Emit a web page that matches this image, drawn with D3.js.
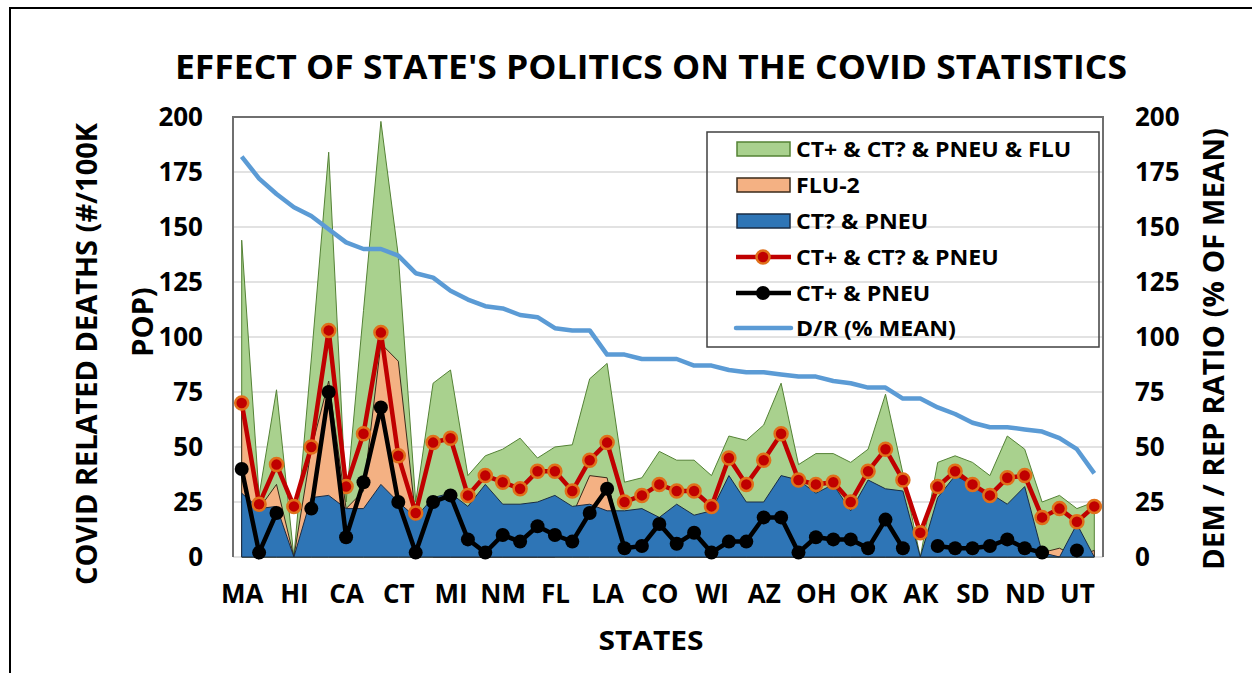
<!DOCTYPE html>
<html><head><meta charset="utf-8">
<script src="https://cdn.jsdelivr.net/npm/d3@7"></script>
<style>body{margin:0;background:#fff;} svg{display:block;} text{font-family:"Open Sans",sans-serif;font-weight:700;fill:#000;}</style>
</head><body>
<svg id="chart" width="1252" height="673"></svg>
<script>
const states = ["MA","VT","RI","HI","MD","NY","CA","IL","NJ","CT","DE","WA","MI","OR","NV","NM","PA","VA","FL","ME",
"MN","LA","NH","NC","CO","GA","IA","WI","KY","MO","AZ","TX","IN","OH","MS","SC","OK","AR","KS","AK",
"TN","MT","SD","NE","WV","ND","AL","ID","UT","WY"];
const shownLabels = ["MA","HI","CA","CT","MI","NM","FL","LA","CO","WI","AZ","OH","OK","AK","SD","ND","UT"];
// CT+ & CT? & PNEU & FLU (total)
const totalFlu = [144,28,76,0,90,184,25,112,198,137,25,79,85,37,46,49,54,45,50,51,
81,88,34,36,48,44,44,37,55,53,60,79,42,47,47,43,49,74,38,0,
43,46,43,37,55,49,25,28,22,25];
// FLU-2
const flu2 = [68,22,33,0,49,80,22,30,97,89,18,0,0,0,0,0,0,0,0,19,
37,36,0,0,0,0,0,0,0,0,0,0,0,0,0,0,0,0,0,0,
0,0,0,0,0,0,2,4,0,3];
// CT? & PNEU
const ctqPneu = [29,22,23,0,27,28,22,22,33,25,18,27,29,23,33,24,24,25,28,23,
24,21,21,22,18,24,19,21,37,25,25,37,35,29,33,21,35,31,30,0,
27,37,33,29,24,32,2,0,15,0];
// CT+ & CT? & PNEU
const ctAllPneu = [70,24,42,23,50,103,32,56,102,46,20,52,54,28,37,34,31,39,39,30,
44,52,25,28,33,30,30,23,45,33,44,56,35,33,34,25,39,49,35,11,
32,39,33,28,36,37,18,22,16,23];
// CT+ & PNEU (null = no value)
const ctPlusPneu = [40,2,20,null,22,75,9,34,68,25,2,25,28,8,2,10,7,14,10,7,
20,31,4,5,15,6,11,2,7,7,18,18,2,9,8,8,4,17,4,null,
5,4,4,5,8,4,2,null,3,null];
// D/R (% MEAN)
const drRatio = [182,172,165,159,155,149,143,140,140,137,129,127,121,117,114,113,110,109,104,103,
103,92,92,90,90,90,87,87,85,84,84,83,82,82,80,79,77,77,72,72,
68,65,61,59,59,58,57,54,49,38];
const yTicks = [0,25,50,75,100,125,150,175,200];

const svg = d3.select("#chart");
const L=233,R=1103,T=117,B=557;
const x = d3.scalePoint().domain(states).range([L,R]).padding(0.5);
const y = d3.scaleLinear().domain([0,200]).range([B,T]);
const yR = d3.scaleLinear().domain([0,200]).range([B,T]);

// outer frame (right/bottom edges fall outside the picture)
svg.append("rect").attr("x",10).attr("y",8).attr("width",1300).attr("height",700)
  .attr("fill","none").attr("stroke","#000").attr("stroke-width",2);

// title
svg.append("text").attr("x",651).attr("y",79).attr("text-anchor","middle")
  .attr("font-size",34).attr("textLength",952).attr("lengthAdjust","spacingAndGlyphs")
  .text("EFFECT OF STATE'S POLITICS ON THE COVID STATISTICS");

// gridlines
svg.append("g").selectAll("line").data(yTicks).join("line")
  .attr("x1",L).attr("x2",R).attr("y1",d=>y(d)).attr("y2",d=>y(d))
  .attr("stroke","#d9d9d9").attr("stroke-width",1.5);

const xs = (d,i)=>x(states[i]);
const area = d3.area().x((d,i)=>xs(d,i)).y0(y(0)).y1(d=>y(d));
svg.append("path").datum(totalFlu).attr("d",area).attr("fill","#a9d18e").attr("stroke","#548235").attr("stroke-width",1);
svg.append("path").datum(flu2).attr("d",area).attr("fill","#f4b183").attr("stroke","#3a2a1a").attr("stroke-width",1);
svg.append("path").datum(ctqPneu).attr("d",area).attr("fill","#2e75b6").attr("stroke","#1a2c44").attr("stroke-width",1);

// plot border
svg.append("path").attr("d",`M${L},${B}V${T}H${R}V${B}`).attr("fill","none").attr("stroke","#6f6f6f").attr("stroke-width",2);

// D/R line
const lineR = d3.line().x((d,i)=>xs(d,i)).y(d=>yR(d));
svg.append("path").datum(drRatio).attr("d",lineR).attr("fill","none").attr("stroke","#5b9bd5").attr("stroke-width",4.5).attr("stroke-linejoin","round");

// red line
const line = d3.line().defined(d=>d!=null).x((d,i)=>xs(d,i)).y(d=>y(d));
svg.append("path").datum(ctAllPneu).attr("d",line).attr("fill","none").attr("stroke","#c00000").attr("stroke-width",4.5);
svg.append("g").selectAll("circle").data(ctAllPneu).join("circle")
  .attr("cx",(d,i)=>xs(d,i)).attr("cy",d=>y(d)).attr("r",6.5)
  .attr("fill","#c00000").attr("stroke","#e0701a").attr("stroke-width",2.5);

// black line
svg.append("path").datum(ctPlusPneu).attr("d",line).attr("fill","none").attr("stroke","#000").attr("stroke-width",4.5);
svg.append("g").selectAll("circle").data(ctPlusPneu.map((d,i)=>({d,i})).filter(o=>o.d!=null)).join("circle")
  .attr("cx",o=>x(states[o.i])).attr("cy",o=>y(o.d)).attr("r",7).attr("fill","#000");

// axes
const axL = svg.append("g").attr("transform",`translate(${L},0)`)
  .call(d3.axisLeft(y).tickValues(yTicks).tickSize(0).tickPadding(30));
axL.select(".domain").remove();
axL.selectAll("text").attr("font-size",26).attr("font-family","Open Sans").attr("font-weight",700).attr("fill","#000");
const axR = svg.append("g").attr("transform",`translate(${R},0)`)
  .call(d3.axisRight(yR).tickValues(yTicks).tickSize(0).tickPadding(32));
axR.select(".domain").remove();
axR.selectAll("text").attr("font-size",26).attr("font-family","Open Sans").attr("font-weight",700).attr("fill","#000");
const axB = svg.append("g").attr("transform",`translate(0,${B})`)
  .call(d3.axisBottom(x).tickValues(shownLabels).tickSize(0).tickPadding(28));
axB.select(".domain").remove();
axB.selectAll("text").attr("font-size",26).attr("font-family","Open Sans").attr("font-weight",700).attr("fill","#000");

// axis titles
svg.append("text").attr("x",651).attr("y",650).attr("text-anchor","middle").attr("font-size",27)
  .attr("textLength",105).attr("lengthAdjust","spacingAndGlyphs").text("STATES");
svg.append("text").attr("transform","translate(97,354) rotate(-90)").attr("text-anchor","middle").attr("font-size",29)
  .attr("textLength",462).attr("lengthAdjust","spacingAndGlyphs").text("COVID RELATED DEATHS (#/100K");
svg.append("text").attr("transform","translate(153,322) rotate(-90)").attr("text-anchor","middle").attr("font-size",29)
  .text("POP)");
svg.append("text").attr("transform","translate(1224,349) rotate(-90)").attr("text-anchor","middle").attr("font-size",29)
  .attr("textLength",442).attr("lengthAdjust","spacingAndGlyphs").text("DEM / REP RATIO (% OF MEAN)");

// legend
const lg = svg.append("g");
lg.append("rect").attr("x",707).attr("y",132).attr("width",392).attr("height",215)
  .attr("fill","none").attr("stroke","#404040").attr("stroke-width",1.5);
const legendItems = [
  {label:"CT+ & CT? & PNEU & FLU", type:"area", fill:"#a9d18e", stroke:"#548235"},
  {label:"FLU-2", type:"area", fill:"#f4b183", stroke:"#3a2a1a"},
  {label:"CT? & PNEU", type:"area", fill:"#2e75b6", stroke:"#1a2c44"},
  {label:"CT+ & CT? & PNEU", type:"lineRed"},
  {label:"CT+ & PNEU", type:"lineBlack"},
  {label:"D/R (% MEAN)", type:"lineBlue"}
];
const rowY = [149,185,221,257,293,328];
legendItems.forEach((it,k)=>{
  const cy=rowY[k];
  if(it.type==="area"){
    lg.append("rect").attr("x",737).attr("y",cy-7).attr("width",53).attr("height",14)
      .attr("fill",it.fill).attr("stroke",it.stroke).attr("stroke-width",1.5);
  } else if(it.type==="lineRed"){
    lg.append("line").attr("x1",736).attr("x2",791).attr("y1",cy).attr("y2",cy).attr("stroke","#c00000").attr("stroke-width",4.5);
    lg.append("circle").attr("cx",763).attr("cy",cy).attr("r",6.5).attr("fill","#c00000").attr("stroke","#e0701a").attr("stroke-width",2.5);
  } else if(it.type==="lineBlack"){
    lg.append("line").attr("x1",736).attr("x2",791).attr("y1",cy).attr("y2",cy).attr("stroke","#000").attr("stroke-width",4.5);
    lg.append("circle").attr("cx",763).attr("cy",cy).attr("r",7).attr("fill","#000");
  } else {
    lg.append("line").attr("x1",736).attr("x2",791).attr("y1",cy).attr("y2",cy).attr("stroke","#5b9bd5").attr("stroke-width",4.5).attr("stroke-linecap","round");
  }
  const t = lg.append("text").attr("x",796).attr("y",cy+8).attr("font-size",21).text(it.label);
  const len = t.node().getComputedTextLength();
  t.attr("textLength",len*1.1).attr("lengthAdjust","spacingAndGlyphs");
});
</script>
</body></html>
